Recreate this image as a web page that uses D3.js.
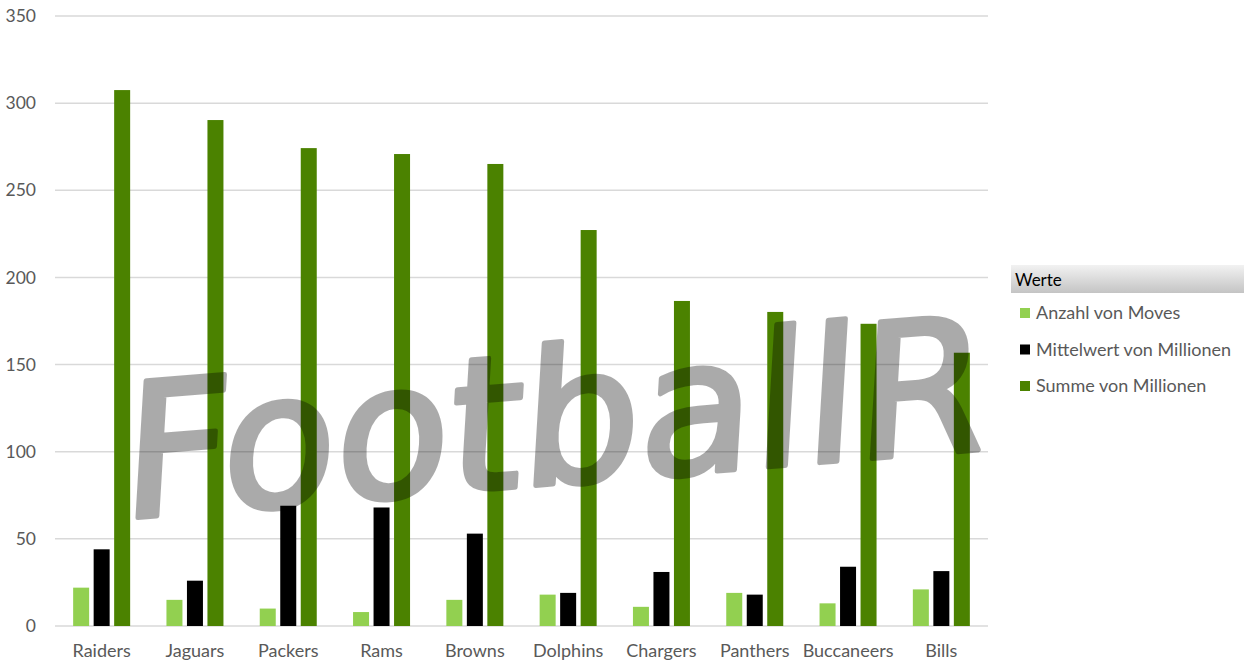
<!DOCTYPE html>
<html><head><meta charset="utf-8">
<script src="https://cdnjs.cloudflare.com/ajax/libs/d3/7.8.5/d3.min.js"></script>
<style>
html,body{margin:0;padding:0;background:#fff;}
svg{display:block;font-family:Lato,"Open Sans",sans-serif;}
</style></head>
<body>
<svg id="chart" width="1253" height="666"></svg>
<script>
const categories = ["Raiders","Jaguars","Packers","Rams","Browns","Dolphins","Chargers","Panthers","Buccaneers","Bills"];
const seriesNames = ["Anzahl von Moves","Mittelwert von Millionen","Summe von Millionen"];
const anzahlMoves = [22,15,10,8,15,18,11,19,13,21];
const mittelwertMillionen = [44,26,69,68,53,19,31,18,34,31.5];
const summeMillionen = [307.5,290.3,274.2,270.8,265.1,227.2,186.5,180.2,173.4,156.8];
const yTicks = [0,50,100,150,200,250,300,350];
const legendTitle = "Werte";
const watermark = "FootballR";
const colors = ["#92d050","#000000","#4b8200"];

(function(){
const series = [anzahlMoves, mittelwertMillionen, summeMillionen];
const svg = d3.select("#chart");
const pLeft = 55, pRight = 988, pTop = 16, pBottom = 626;

const x = d3.scaleBand().domain(categories).range([pLeft, pRight]).paddingInner(0).paddingOuter(0);
const y = d3.scaleLinear().domain([0,350]).range([pBottom, pTop]);
const barW = 16, gap = 4.5;
const groupW = 3*barW + 2*gap;

// gridlines
svg.append("g").selectAll("line").data(yTicks).join("line")
  .attr("x1", pLeft).attr("x2", pRight)
  .attr("y1", d => y(d)).attr("y2", d => y(d))
  .attr("stroke", "#d9d9d9").attr("stroke-width", 1.5);

// y tick labels
svg.append("g").selectAll("text").data(yTicks).join("text")
  .attr("x", 36).attr("y", d => y(d)).attr("dy", "0.35em")
  .attr("text-anchor", "end").attr("fill", "#595959")
  .style("font-size", "17.5px").text(d => d);

// bars
series.forEach((vals, si) => {
  svg.append("g").selectAll("rect").data(vals).join("rect")
    .attr("x", (d,i) => x(categories[i]) + x.bandwidth()/2 - groupW/2 + si*(barW+gap))
    .attr("width", barW)
    .attr("y", d => y(d))
    .attr("height", d => y(0) - y(d))
    .attr("fill", colors[si]);
});

// category labels
svg.append("g").selectAll("text").data(categories).join("text")
  .attr("x", d => x(d) + x.bandwidth()/2).attr("y", 657)
  .attr("text-anchor", "middle").attr("fill", "#595959")
  .style("font-size", "18px").text(d => d);

// watermark
svg.append("g").attr("opacity", 0.33)
  .append("text")
  .attr("transform", "translate(120,519) rotate(-4.6) skewX(-8)")
  .attr("x", 0).attr("y", 0)
  .attr("textLength", 866).attr("lengthAdjust", "spacingAndGlyphs")
  .style("font-family", "'DejaVu Sans Condensed','DejaVu Sans',sans-serif")
  .style("font-size", "186px")
  .attr("fill", "#000").attr("stroke", "#000").attr("stroke-width", 5).attr("stroke-linejoin", "round")
  .text(watermark);

// legend
const defs = svg.append("defs");
const grad = defs.append("linearGradient").attr("id","lg").attr("x1",0).attr("x2",0).attr("y1",0).attr("y2",1);
grad.append("stop").attr("offset","0%").attr("stop-color","#f2f2f2");
grad.append("stop").attr("offset","100%").attr("stop-color","#c4c4c4");
svg.append("rect").attr("x",1011).attr("y",265).attr("width",233).attr("height",28).attr("fill","url(#lg)");
svg.append("text").attr("x",1015).attr("y",286).attr("fill","#000").style("font-size","17px").text(legendTitle);

const lg = svg.append("g").selectAll("g").data(seriesNames).join("g")
  .attr("transform", (d,i) => `translate(1020,${313 + i*36.5})`);
lg.append("rect").attr("x",0).attr("y",-5).attr("width",10).attr("height",10)
  .attr("fill", (d,i) => colors[i]);
lg.append("text").attr("x",16).attr("y",0).attr("dy","0.35em")
  .attr("fill","#595959").style("font-size","18px").text(d => d);
})();
</script>
</body></html>
